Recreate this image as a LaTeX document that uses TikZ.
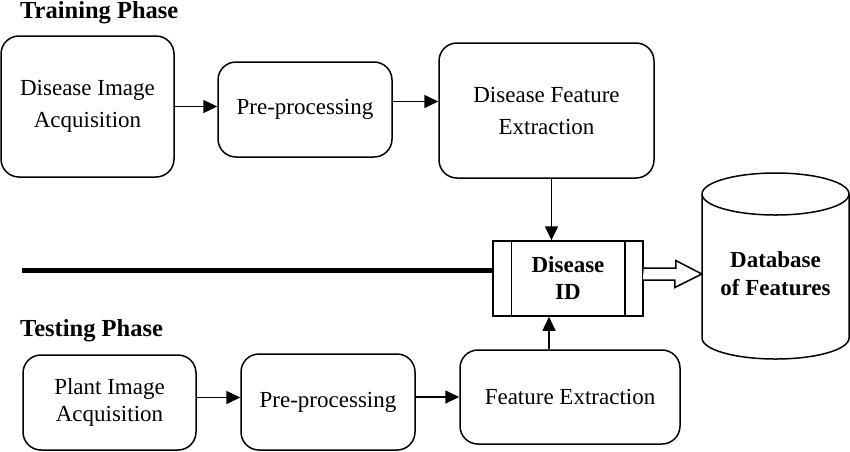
\documentclass[tikz,border=0pt]{standalone}
\usepackage{fontspec}
\setmainfont{Liberation Serif}
\usetikzlibrary{arrows.meta}

\begin{document}
\begin{tikzpicture}[x=1pt, y=-1pt,
  stepbox/.style={draw, line width=1.5pt, rounded corners=18pt, align=center, inner sep=0pt, font=\fontsize{23}{32}\selectfont},
  flow/.style={line width=1.6pt, -{Triangle[length=14pt, width=13pt]}},
  phase/.style={anchor=west, inner sep=0pt, font=\bfseries\fontsize{24.5}{28}\selectfont}]
  \useasboundingbox (0, 0) rectangle (850, 451);
  % Phase titles
  \node [phase] (trainlabel) at (20, 13) {Training Phase};
  \node [phase] (testlabel) at (20, 331) {Testing Phase};
  % Training row
  \node [stepbox, minimum width=173pt, minimum height=141pt] (trainacq) at (87.5, 106.5) {Disease Image\\Acquisition};
  \node [stepbox, minimum width=174pt, minimum height=95pt] (trainpre) at (305, 109.5) {Pre-processing};
  \node [stepbox, minimum width=215pt, minimum height=135pt] (trainfeat) at (546.5, 110.5) {Disease Feature\\Extraction};
  % Testing row
  \node [stepbox, minimum width=173pt, minimum height=95pt, font=\fontsize{23}{27}\selectfont] (testacq) at (109.5, 402.5) {Plant Image\\Acquisition};
  \node [stepbox, minimum width=174pt, minimum height=96pt] (testpre) at (328, 402) {Pre-processing};
  \node [stepbox, minimum width=220pt, minimum height=94pt] (testfeat) at (570, 397) {Feature Extraction};
  % Disease ID box with its two side bars
  \node [draw, line width=1.5pt, minimum width=150pt, minimum height=75pt, inner sep=0pt, align=center,
    font=\bfseries\fontsize{23}{27}\selectfont] (id) at (568, 278.5) {Disease\\ID};
  \draw [line width=1.5pt] ([xshift=19pt]id.north west) -- ([xshift=19pt]id.south west);
  \draw [line width=1.5pt] ([xshift=-19pt]id.north east) -- ([xshift=-19pt]id.south east);
  % Database cylinder
  \node [minimum width=147pt, inner sep=0pt, align=center,
    font=\bfseries\fontsize{23}{28}\selectfont] (db) at (775.5, 274) {Database\\of Features};
  \draw [line width=1.5pt] (702, 194) -- (702, 338) arc [start angle=180, end angle=0, x radius=73.5, y radius=21] -- (849, 194);
  \draw [line width=1.5pt] (775.5, 194) ellipse [x radius=73.5, y radius=21];
  % Thick separator line
  \coordinate (sepstart) at (22, 270.5);
  \draw [line width=5.5pt] (sepstart) -- (sepstart -| id.west);
  % Connectors
  \draw [flow] (trainacq.east) -- (trainacq.east -| trainpre.west);
  \draw [flow] ([yshift=8pt]trainpre.east) -- ([yshift=8pt]trainpre.east -| trainfeat.west);
  \draw [flow] ([xshift=5pt]trainfeat.south) -- ([xshift=5pt]trainfeat.south |- id.north);
  \draw [flow] ([yshift=5pt]testacq.east) -- ([yshift=5pt]testacq.east -| testpre.west);
  \draw [flow] ([yshift=5pt]testpre.east) -- ([yshift=5pt]testpre.east -| testfeat.west);
  \draw [flow] ([xshift=-21pt]testfeat.north) -- ([xshift=-21pt]testfeat.north |- id.south);
  % Hollow arrow into the database
  \draw [line width=1.5pt, fill=white] (id.east |- db.west) ++(0, -6) -- ++(32, 0) -- ++(0, -7.5)
    -- (db.west) -- ++(-27, 13.5) -- ++(0, -7.5) -- ++(-32, 0);
\end{tikzpicture}
\end{document}
